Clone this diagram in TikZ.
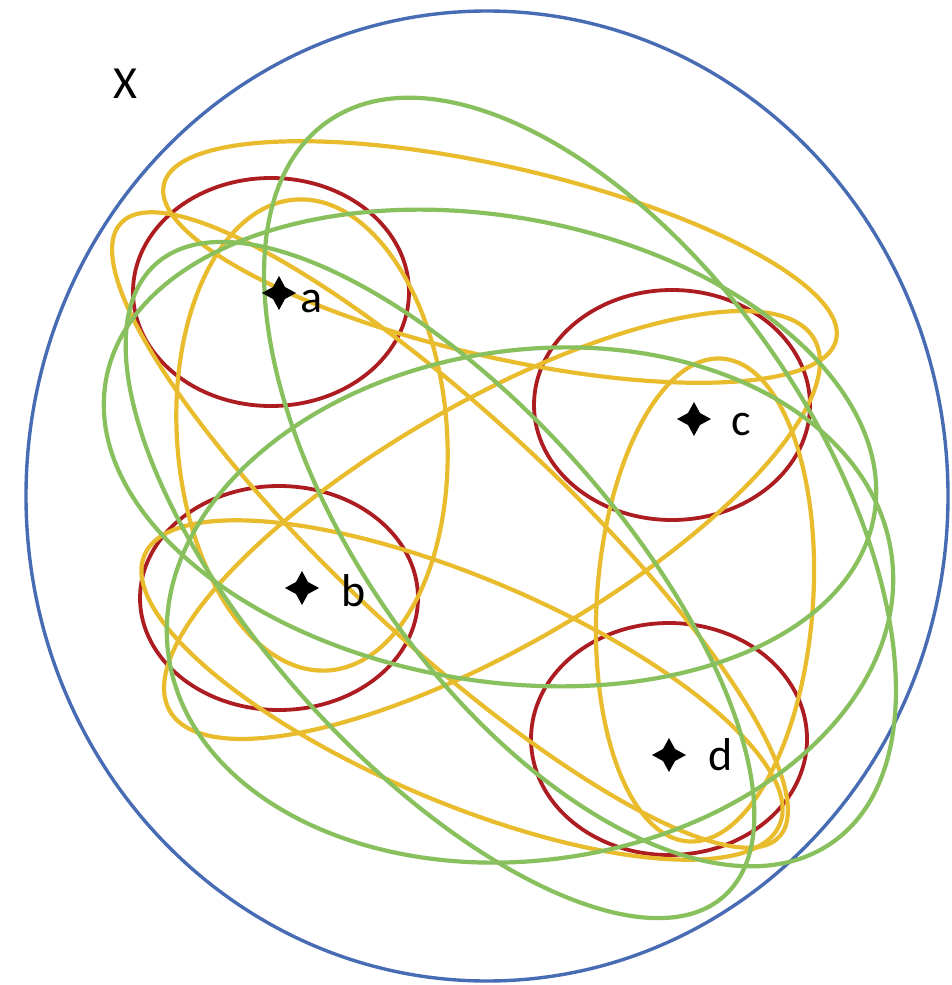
\documentclass[tikz,border=0pt]{standalone}
\usepackage{fontspec}
\setmainfont{Carlito}
\definecolor{xblue}{RGB}{72,108,180}
\definecolor{xred}{RGB}{172,28,32}
\definecolor{xyel}{RGB}{232,188,45}
\definecolor{xgrn}{RGB}{135,192,92}
\tikzset{
  outerset/.style={draw=xblue, line width=3.4pt},
  pointset/.style={draw=xred, line width=3.8pt},
  pairset/.style={draw=xyel, line width=4.2pt},
  tripset/.style={draw=xgrn, line width=4.2pt},
  lbl/.style={font=\fontsize{46}{46}\selectfont, inner sep=0pt, anchor=base west},
}
\newcommand{\fourstar}[2]{\fill[black] (#1,#2) ++(-17,0) -- ++(11,6) -- ++(6,11) -- ++(6,-11) -- ++(11,-6) -- ++(-11,-6) -- ++(-6,-11) -- ++(-6,11) -- cycle;}
\begin{document}
\begin{tikzpicture}[x=1pt,y=1pt]
\useasboundingbox (0,0) rectangle (952,-985);
\fill[white] (0,0) rectangle (952,-985);
% outer set X
\draw[outerset] (487,-496) ellipse [x radius=461pt, y radius=485pt];
% singletons
\draw[pointset] (271,-292) ellipse [x radius=138pt, y radius=114pt];
\draw[pointset] (279,-598) ellipse [x radius=139pt, y radius=112pt];
\draw[pointset] (672,-405) ellipse [x radius=138pt, y radius=115pt];
\draw[pointset] (669,-739) ellipse [x radius=138pt, y radius=116pt];
% pairs
\draw[pairset, rotate around={-13:(500,-262)}] (500,-262) ellipse [x radius=345pt, y radius=95pt];   % ac
\draw[pairset, rotate around={-23:(462,-690)}] (462,-690) ellipse [x radius=345pt, y radius=112pt];  % bd
\draw[pairset, rotate around={4:(312,-435)}] (312,-435) ellipse [x radius=135pt, y radius=236pt];    % ab
\draw[pairset, rotate around={-4:(705,-600)}] (705,-600) ellipse [x radius=108pt, y radius=242pt];   % cd
\draw[pairset, rotate around={30:(492,-525)}] (492,-525) ellipse [x radius=372pt, y radius=122pt];   % bc
\draw[pairset, rotate around={-43:(450,-530)}] (450,-530) ellipse [x radius=450pt, y radius=112pt];  % ad
% triples
\draw[tripset, rotate around={-55:(580,-482)}] (580,-482) ellipse [x radius=440pt, y radius=232pt];  % acd
\draw[tripset, rotate around={-48:(440,-580)}] (440,-580) ellipse [x radius=425pt, y radius=180pt];  % abd
\draw[tripset, rotate around={-10:(490,-448)}] (490,-448) ellipse [x radius=390pt, y radius=232pt];  % abc
\draw[tripset, rotate around={8:(530,-605)}] (530,-605) ellipse [x radius=365pt, y radius=255pt];    % bcd
% points
\fourstar{279}{-293}
\fourstar{302}{-588}
\fourstar{694}{-419}
\fourstar{669}{-755}
\node[lbl] (la) at (300,-312) {a};
\node[lbl] (lb) at (341,-606) {b};
\node[lbl] (lc) at (731,-435) {c};
\node[lbl] (ld) at (708,-770) {d};
\node[lbl] (lx) at (113,-98) {X};
\end{tikzpicture}
\end{document}
